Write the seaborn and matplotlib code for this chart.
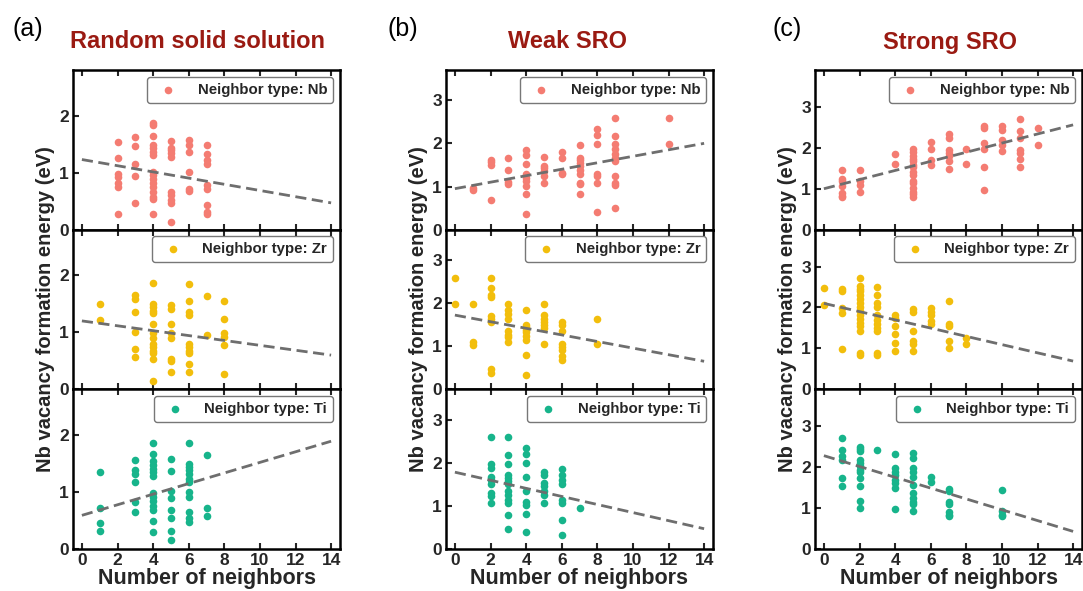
import numpy as np
import pandas as pd
import matplotlib
matplotlib.use("Agg")
import matplotlib.pyplot as plt
import seaborn as sns

sns.set_style("white")
plt.rcParams['font.family'] = ['Liberation Sans', 'DejaVu Sans']

# ---------------- data ----------------
panel_labels = ["(a)", "(b)", "(c)"]
panel_titles = ["Random solid solution", "Weak SRO", "Strong SRO"]
neighbor_types = ["Nb", "Zr", "Ti"]
type_colors = {"Nb": "#F47C72", "Zr": "#F2BE0C", "Ti": "#17B48B"}
y_limits = [2.8, 3.7, 3.9]
y_ticks = [[0, 1, 2], [0, 1, 2, 3], [0, 1, 2, 3]]
x_ticks = [0, 2, 4, 6, 8, 10, 12, 14]

# (a) random solid solution: {neighbor count: energies}
rss_nb = {2: [1.54, 1.25, 0.98, 0.93, 0.81, 0.75, 0.28],
          3: [1.63, 1.47, 1.16, 0.94, 0.47],
          4: [1.87, 1.84, 1.64, 1.48, 1.44, 1.36, 1.31, 1.01, 0.95, 0.89, 0.81, 0.74, 0.66, 0.58, 0.53, 0.28],
          5: [1.55, 1.44, 1.39, 1.34, 1.28, 0.66, 0.61, 0.52, 0.47, 0.13],
          6: [1.57, 1.48, 1.36, 1.01, 0.72, 0.68],
          7: [1.48, 1.32, 1.22, 1.16, 0.79, 0.71, 0.43, 0.31, 0.28]}
rss_zr = {1: [1.49, 1.21],
          3: [1.66, 1.59, 1.35, 1.01, 0.71, 0.56],
          4: [1.86, 1.50, 1.45, 1.37, 1.33, 1.15, 0.98, 0.90, 0.80, 0.74, 0.68, 0.63, 0.53, 0.15],
          5: [1.48, 1.41, 1.15, 0.99, 0.90, 0.54, 0.49, 0.30],
          6: [1.85, 1.55, 1.36, 1.31, 0.80, 0.74, 0.68, 0.64, 0.44, 0.31],
          7: [1.64, 0.95],
          8: [1.55, 1.24, 0.98, 0.92, 0.78, 0.27]}
rss_ti = {1: [1.35, 0.72, 0.45, 0.32],
          3: [1.56, 1.38, 1.32, 1.17, 0.82, 0.65],
          4: [1.86, 1.66, 1.55, 1.48, 1.41, 1.35, 1.28, 0.98, 0.92, 0.84, 0.76, 0.69, 0.49, 0.29],
          5: [1.57, 1.36, 1.01, 0.89, 0.69, 0.55, 0.31, 0.15],
          6: [1.86, 1.49, 1.44, 1.38, 1.31, 1.22, 1.18, 1.00, 0.92, 0.65, 0.54, 0.48],
          7: [1.65, 0.72, 0.58]}

# (b) weak SRO
weak_nb = {1: [0.97, 0.93],
           2: [1.62, 1.56, 1.51, 0.69],
           3: [1.66, 1.38, 1.10, 1.05],
           4: [1.85, 1.74, 1.53, 1.28, 1.20, 1.12, 1.01, 0.82, 0.36],
           5: [1.68, 1.48, 1.43, 1.35, 1.24, 1.09],
           6: [1.79, 1.66, 1.32, 1.28],
           7: [1.97, 1.66, 1.61, 1.55, 1.47, 1.38, 1.28, 1.09, 1.05, 0.82],
           8: [2.33, 2.20, 1.98, 1.28, 1.24, 1.09, 0.41],
           9: [2.58, 2.16, 1.99, 1.87, 1.76, 1.66, 1.58, 1.25, 1.09, 1.03, 0.50],
           12: [2.58, 1.98]}
weak_zr = {0: [2.59, 1.97],
           1: [1.98, 1.09, 1.02],
           2: [2.59, 2.34, 2.19, 2.15, 1.71, 1.64, 1.57, 0.46, 0.39],
           3: [1.97, 1.84, 1.74, 1.64, 1.35, 1.27, 1.22, 1.09],
           4: [1.84, 1.50, 1.45, 1.37, 1.32, 1.24, 1.14, 0.79, 0.34],
           5: [1.97, 1.72, 1.64, 1.57, 1.49, 1.43, 1.06],
           6: [1.57, 1.50, 1.35, 1.06, 0.98, 0.91, 0.78, 0.67],
           8: [1.64, 1.06]}
weak_ti = {2: [2.59, 1.97, 1.88, 1.68, 1.60, 1.50, 1.29, 1.22, 1.06],
           3: [2.59, 2.17, 1.97, 1.72, 1.64, 1.57, 1.50, 1.35, 1.26, 1.14, 1.06, 0.79, 0.47],
           4: [2.34, 2.19, 1.99, 1.66, 1.35, 1.09, 1.02, 0.81, 0.39],
           5: [1.78, 1.72, 1.53, 1.45, 1.35, 1.26, 1.06],
           6: [1.86, 1.71, 1.60, 1.50, 1.14, 1.06, 0.67, 0.33],
           7: [0.95]}

# (c) strong SRO
strong_nb = {1: [1.46, 1.24, 1.18, 1.07, 0.89, 0.83, 0.79],
             2: [1.45, 1.18, 1.10, 0.93],
             4: [1.85, 1.60],
             5: [1.97, 1.89, 1.81, 1.72, 1.67, 1.59, 1.53, 1.42, 1.34, 1.20, 1.14, 1.02, 0.93, 0.88, 0.81],
             6: [2.15, 1.97, 1.71, 1.59],
             7: [2.34, 2.24, 1.95, 1.87, 1.79, 1.67, 1.48],
             8: [1.97, 1.61],
             9: [2.52, 2.48, 2.11, 1.97, 1.54, 0.98],
             10: [2.52, 2.44, 2.20, 2.07, 1.93],
             11: [2.70, 2.42, 2.24, 1.95, 1.87, 1.72, 1.54],
             12: [2.48, 2.07]}
strong_zr = {0: [2.47, 2.05],
             1: [2.45, 2.40, 1.98, 1.86, 0.99],
             2: [2.71, 2.53, 2.45, 2.39, 2.31, 2.21, 2.11, 2.02, 1.92, 1.82, 1.72, 1.62, 1.54, 1.43, 0.89, 0.83],
             3: [2.51, 2.31, 2.11, 2.00, 1.82, 1.70, 1.60, 1.50, 1.42, 0.89, 0.83],
             4: [1.82, 1.74, 1.54, 1.35, 1.13, 0.93],
             5: [1.97, 1.89, 1.43, 1.17, 1.11, 0.93],
             6: [1.98, 1.89, 1.81, 1.68, 1.60],
             7: [2.16, 1.60, 1.54, 1.19, 1.01],
             8: [1.26, 1.11]}
strong_ti = {1: [2.71, 2.42, 2.26, 2.18, 1.73, 1.55],
             2: [2.50, 2.45, 2.40, 2.18, 2.10, 2.02, 1.93, 1.88, 1.73, 1.55, 1.18, 1.00],
             3: [2.42],
             4: [2.32, 1.98, 1.88, 1.81, 1.69, 1.61, 1.50, 0.98],
             5: [2.34, 2.22, 1.98, 1.88, 1.77, 1.57, 1.37, 1.24, 1.16, 1.10, 0.93],
             6: [1.75, 1.63],
             7: [1.47, 1.41, 1.16, 1.10, 0.90, 0.84, 0.80],
             10: [1.45, 0.93, 0.84, 0.80]}

panel_data = [[rss_nb, rss_zr, rss_ti],
              [weak_nb, weak_zr, weak_ti],
              [strong_nb, strong_zr, strong_ti]]

# linear trend lines: energy at 0 and at 14 neighbors
trend_x = [0, 14]
trend_y = [[(1.23, 0.47), (1.20, 0.60), (0.59, 1.89)],
           [(0.95, 2.00), (1.72, 0.65), (1.78, 0.47)],
           [(1.00, 2.56), (2.10, 0.69), (2.28, 0.43)]]


def to_frame(d):
    rows = [(n, e) for n, vals in d.items() for e in vals]
    return pd.DataFrame(rows, columns=["neighbors", "energy"])


# ---------------- figure ----------------
W, H = 1083, 591
fig = plt.figure(figsize=(W / 100, H / 100), dpi=100)

col_left_px = [73, 446, 815]
ax_w_px = 267
top_px, bottom_px = 70, 549
row_h_px = (bottom_px - top_px) / 3

title_x_px = [197, 567, 950]
label_x_px = [28, 403, 787]
title_red = "#9A1A12"

for c in range(3):
    for r in range(3):
        left = col_left_px[c] / W
        bottom = 1 - (top_px + (r + 1) * row_h_px) / H
        ax = fig.add_axes([left, bottom, ax_w_px / W, row_h_px / H])
        ntype = neighbor_types[r]
        df = to_frame(panel_data[c][r])
        sns.scatterplot(data=df, x="neighbors", y="energy", ax=ax,
                        color=type_colors[ntype], s=30, linewidth=0,
                        label=f"Neighbor type: {ntype}", zorder=3)
        y0, y1 = trend_y[c][r]
        sns.lineplot(x=trend_x, y=[y0, y1], ax=ax, color="#6E6E6E",
                     linewidth=2.0, linestyle=(0, (4, 2)), zorder=4,
                     legend=False)
        ax.set_xlim(-0.5, 14.5)
        ax.set_ylim(0, y_limits[c])
        ax.set_xticks(x_ticks)
        ax.set_yticks(y_ticks[c])
        ax.tick_params(axis="both", direction="in", length=4, width=1.5,
                       top=True, bottom=True, left=True, right=False,
                       labelsize=12.5, pad=3)
        for lab in ax.get_xticklabels() + ax.get_yticklabels():
            lab.set_fontweight("bold")
        for sp in ax.spines.values():
            sp.set_linewidth(1.8)
            sp.set_color("black")
        ax.set_xlabel("")
        ax.set_ylabel("")
        if r < 2:
            ax.tick_params(axis="x", labelbottom=False)
        else:
            ax.set_xlabel("Number of neighbors", fontsize=15.5,
                          fontweight="bold", labelpad=0)
        if r == 1:
            ax.set_ylabel("Nb vacancy formation energy (eV)", fontsize=14.5,
                          fontweight="bold", labelpad=3)
        leg = ax.legend(loc="upper right", frameon=True, fancybox=True,
                        prop={"weight": "bold", "size": 10.8},
                        handletextpad=1.0, borderpad=0.4,
                        borderaxespad=0.45, markerscale=1.0)
        leg.get_frame().set_edgecolor("#555555")
        leg.get_frame().set_linewidth(1.0)

    fig.text(title_x_px[c] / W, 1 - 42 / H, panel_titles[c], ha="center",
             va="center", fontsize=17, fontweight="bold", color=title_red)
    fig.text(label_x_px[c] / W, 1 - 29 / H, panel_labels[c], ha="center",
             va="center", fontsize=18, color="black")

fig.savefig("out.png", dpi=100)
